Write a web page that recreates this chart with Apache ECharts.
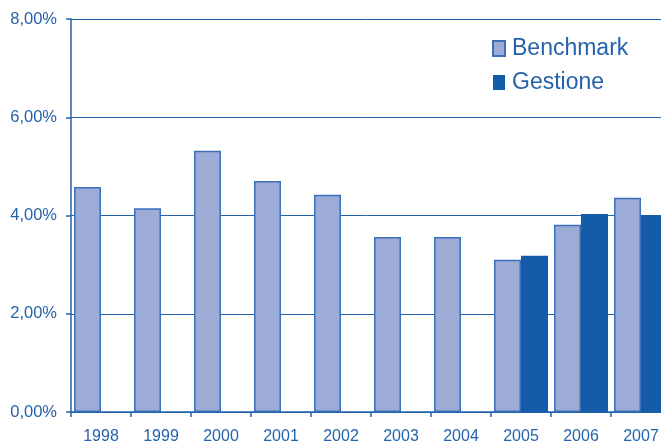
<!DOCTYPE html>
<html><head><meta charset="utf-8">
<script src="https://cdn.jsdelivr.net/npm/echarts@6/dist/echarts.min.js"></script>
<style>html,body{margin:0;padding:0;background:#fff}#c{width:661px;height:441px}</style>
</head><body><div id="c"></div>
<script>
const years = ['1998','1999','2000','2001','2002','2003','2004','2005','2006','2007'];
const benchmark = [4.58, 4.15, 5.32, 4.70, 4.42, 3.56, 3.56, 3.10, 3.81, 4.36];
const gestione = [null, null, null, null, null, null, null, 3.18, 4.03, 4.01];
const yTicks = [0, 2, 4, 6, 8];

const blue = '#2462ab';
const font = 'Liberation Sans';
const chart = echarts.init(document.getElementById('c'), null, {renderer: 'canvas'});
chart.setOption({
  animation: false,
  grid: {left: 71, top: 19, bottom: 29, right: -10, containLabel: false, outerBoundsMode: 'none'},
  legend: {
    orient: 'vertical', left: 492, top: 37, padding: 0,
    itemWidth: 12, itemHeight: 15, itemGap: 11,
    icon: 'rect',
    textStyle: {fontFamily: font, fontSize: 23, color: blue, padding: [0, 0, 0, 2]},
    data: ['Benchmark', 'Gestione']
  },
  xAxis: {
    type: 'category', data: years,
    axisLine: {lineStyle: {color: blue, width: 1.5}},
    axisTick: {show: true, length: 5, lineStyle: {color: blue, width: 1.5}},
    axisLabel: {fontFamily: font, fontSize: 16, color: blue, margin: 17, interval: 0}
  },
  yAxis: {
    type: 'value', min: yTicks[0], max: yTicks[yTicks.length - 1], interval: 2,
    axisLine: {show: true, lineStyle: {color: blue, width: 1.5}},
    axisTick: {show: true, length: 5, lineStyle: {color: blue, width: 1.5}},
    splitLine: {show: true, lineStyle: {color: blue, width: 1}},
    axisLabel: {fontFamily: font, fontSize: 16.5, color: blue, margin: 14,
      formatter: v => v.toFixed(2).replace('.', ',') + '%'}
  },
  series: [
    {name: 'Benchmark', type: 'bar', data: benchmark, barGap: '0%', barCategoryGap: '10%',
     itemStyle: {color: '#9dabd7', borderColor: '#3a70b8', borderWidth: 1.5}},
    {name: 'Gestione', type: 'bar', data: gestione,
     itemStyle: {color: '#145ba9'}}
  ]
});
</script></body></html>
